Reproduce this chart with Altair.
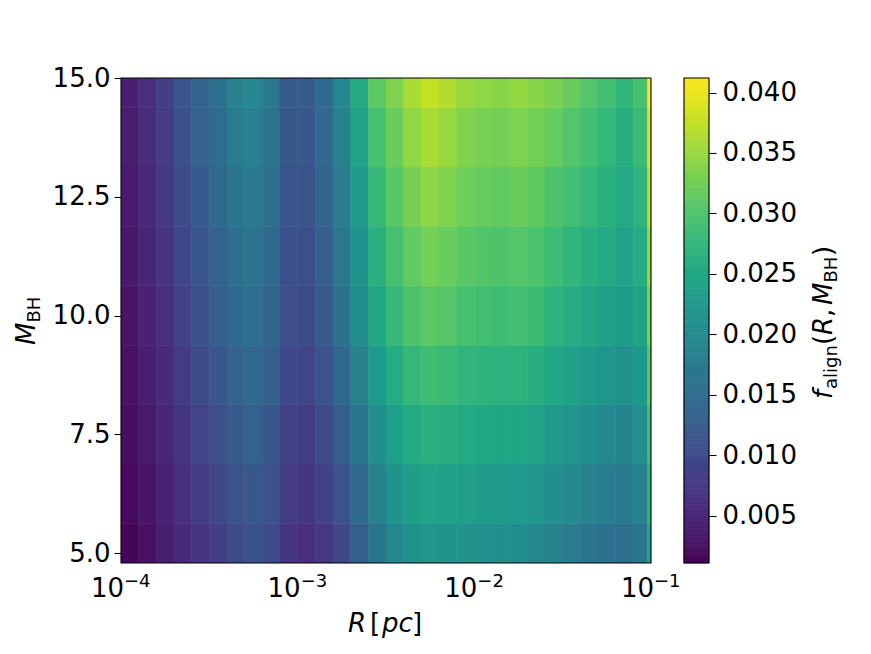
import altair as alt
import numpy as np
import pandas as pd

# ---------------- data ----------------
# column edges in log10(R / pc)
log_r_edges = [-4.0, -3.9, -3.8, -3.7, -3.6, -3.5, -3.4, -3.3, -3.2, -3.1,
               -3.0, -2.9, -2.8, -2.7, -2.6, -2.5, -2.4, -2.3, -2.2, -2.1,
               -2.0, -1.9, -1.8, -1.7, -1.6, -1.5, -1.4, -1.3, -1.2, -1.1,
               -1.02, -1.0]
# row edges in M_BH
m_edges = [4.79, 5.625, 6.875, 8.125, 9.375, 10.625, 11.875, 13.125, 14.375, 15.0]

# f_align values, one list per row (bottom -> top), one value per column (left -> right)
f_row0 = [.0016, .0028, .0042, .0058, .0072, .0085, .0100, .0110, .0102, .0072, .0064, .0075, .0098, .0130, .0165, .0195,
          .0212, .0220, .0218, .0215, .0212, .0210, .0205, .0200, .0188, .0178, .0168, .0160, .0155, .0168, .0250]
f_row1 = [.0020, .0033, .0048, .0066, .0082, .0096, .0112, .0121, .0112, .0080, .0073, .0088, .0114, .0149, .0186, .0216,
          .0234, .0243, .0240, .0235, .0232, .0229, .0226, .0221, .0209, .0199, .0189, .0180, .0174, .0187, .0270]
f_row2 = [.0024, .0038, .0054, .0073, .0091, .0108, .0124, .0133, .0121, .0089, .0082, .0100, .0129, .0168, .0208, .0238,
          .0256, .0265, .0262, .0255, .0251, .0249, .0248, .0243, .0229, .0219, .0209, .0200, .0193, .0207, .0290]
f_row3 = [.0028, .0043, .0059, .0081, .0101, .0119, .0136, .0144, .0131, .0097, .0091, .0113, .0145, .0186, .0229, .0259,
          .0278, .0288, .0283, .0275, .0271, .0268, .0269, .0264, .0250, .0240, .0230, .0220, .0211, .0226, .0310]
f_row4 = [.0032, .0048, .0065, .0088, .0110, .0130, .0148, .0155, .0140, .0105, .0100, .0125, .0160, .0205, .0250, .0280,
          .0300, .0310, .0305, .0295, .0290, .0287, .0290, .0285, .0270, .0260, .0250, .0240, .0230, .0245, .0330]
f_row5 = [.0035, .0052, .0070, .0095, .0118, .0137, .0157, .0165, .0148, .0110, .0106, .0131, .0169, .0218, .0265, .0294,
          .0315, .0327, .0320, .0309, .0304, .0300, .0305, .0299, .0286, .0275, .0264, .0253, .0241, .0258, .0350]
f_row6 = [.0039, .0057, .0075, .0102, .0125, .0144, .0167, .0175, .0155, .0115, .0113, .0138, .0178, .0230, .0280, .0308,
          .0330, .0343, .0335, .0323, .0318, .0314, .0319, .0313, .0301, .0290, .0278, .0265, .0253, .0270, .0370]
f_row7 = [.0042, .0061, .0080, .0108, .0133, .0151, .0176, .0185, .0163, .0120, .0119, .0144, .0186, .0243, .0295, .0321,
          .0345, .0360, .0350, .0336, .0331, .0327, .0334, .0326, .0317, .0305, .0291, .0278, .0264, .0283, .0390]
f_row8 = [.0045, .0065, .0085, .0115, .0140, .0158, .0185, .0195, .0170, .0125, .0125, .0150, .0195, .0255, .0310, .0335,
          .0360, .0376, .0365, .0350, .0345, .0340, .0348, .0340, .0332, .0320, .0305, .0290, .0275, .0295, .0410]
f_rows = [f_row0, f_row1, f_row2, f_row3, f_row4, f_row5, f_row6, f_row7, f_row8]

x_ticks = [1e-4, 1e-3, 1e-2, 1e-1]
x_tick_exponents = ["\u22124", "\u22123", "\u22122", "\u22121"]
y_ticks = [5.0, 7.5, 10.0, 12.5, 15.0]
cb_ticks = [0.005, 0.010, 0.015, 0.020, 0.025, 0.030, 0.035, 0.040]
F_MIN, F_MAX = 0.0011, 0.0412
M_MIN, M_MAX = 4.79, 15.0
R_MIN, R_MAX = 1e-4, 1e-1

# ---------------- tables ----------------
cells = []
for i, row in enumerate(f_rows):
    for j, v in enumerate(row):
        cells.append({"r_lo": 10 ** log_r_edges[j], "r_hi": 10 ** log_r_edges[j + 1],
                      "m_lo": m_edges[i], "m_hi": m_edges[i + 1], "f": v})
df = pd.DataFrame(cells)

cb_edges = np.linspace(F_MIN, F_MAX, 241)
cb_df = pd.DataFrame({"lo": cb_edges[:-1], "hi": cb_edges[1:],
                      "f": (cb_edges[:-1] + cb_edges[1:]) / 2})

xtick_df = pd.DataFrame({"v": x_ticks, "exp": x_tick_exponents})

W, H = 530, 485
FONT = "DejaVu Sans"
color_scale = alt.Scale(scheme="viridis", domain=[F_MIN, F_MAX])
x_scale = alt.Scale(type="log", domain=[R_MIN, R_MAX], nice=False)

axis_common = dict(grid=False, domain=False, tickColor="black", tickWidth=1.1, tickSize=7,
                   labelFont=FONT, labelFontSize=26, labelColor="black", title=None)

heat = alt.Chart(df).mark_rect(strokeWidth=0.6, clip=True).encode(
    x=alt.X("r_lo:Q", scale=x_scale,
            axis=alt.Axis(values=x_ticks, labels=False, **axis_common)),
    x2="r_hi:Q",
    y=alt.Y("m_lo:Q", scale=alt.Scale(domain=[M_MIN, M_MAX], nice=False, zero=False),
            axis=alt.Axis(values=y_ticks, format=".1f", labelPadding=4, **axis_common)),
    y2="m_hi:Q",
    color=alt.Color("f:Q", scale=color_scale, legend=None),
    stroke=alt.Stroke("f:Q", scale=color_scale, legend=None),
)

# x tick labels 10^{-n} drawn through the x scale
xlab_base = alt.Chart(xtick_df).mark_text(
    text="10", fontSize=26, font=FONT, color="black", align="right", baseline="alphabetic", dx=3
).encode(x=alt.X("v:Q", scale=x_scale, axis=None), y=alt.value(519))
xlab_exp = alt.Chart(xtick_df).mark_text(
    fontSize=18, font=FONT, color="black", align="left", baseline="alphabetic", dx=3
).encode(x=alt.X("v:Q", scale=x_scale, axis=None), y=alt.value(509), text="exp:N")

CB_X0, CB_X1 = 563, 588
cbar = alt.Chart(cb_df).mark_rect(strokeWidth=0.6).encode(
    x=alt.value(CB_X0), x2=alt.value(CB_X1),
    y=alt.Y("lo:Q", scale=alt.Scale(domain=[F_MIN, F_MAX], nice=False, zero=False),
            axis=alt.Axis(orient="right", offset=CB_X1 - W, values=cb_ticks, format=".3f",
                          labelPadding=6, **axis_common)),
    y2="hi:Q",
    color=alt.Color("f:Q", scale=color_scale, legend=None),
    stroke=alt.Stroke("f:Q", scale=color_scale, legend=None),
)

one = pd.DataFrame({"k": [0]})
frame = alt.Chart(one).mark_rect(filled=False, stroke="black", strokeWidth=1.1).encode(
    x=alt.value(0), x2=alt.value(W), y=alt.value(0), y2=alt.value(H))
cb_frame = alt.Chart(one).mark_rect(filled=False, stroke="black", strokeWidth=1.1).encode(
    x=alt.value(CB_X0), x2=alt.value(CB_X1), y=alt.value(0), y2=alt.value(H))

# title pieces: text, x, y, size, italic, angle
pieces = [
    ("R", 227, 554, 26, True, 0), ("[", 249, 554, 26, False, 0),
    ("pc", 261, 554, 26, True, 0), ("]", 291, 554, 26, False, 0),
    ("M", -86, 267, 26, True, 270), ("BH", -81, 244.5, 18, False, 270),
    ("f", 711, 321, 26, True, 270), ("align", 716, 311, 18, False, 270),
    ("(", 711, 267, 26, False, 270), ("R", 711, 257, 26, True, 270),
    (",", 711, 239, 26, False, 270), ("M", 711, 227, 26, True, 270),
    ("BH", 716, 204.5, 18, False, 270), (")", 711, 178, 26, False, 270),
]
texts = []
for t, px, py, sz, it, ang in pieces:
    kw = dict(text=t, fontSize=sz, font=FONT, color="black", align="left", baseline="alphabetic")
    if it:
        kw["fontStyle"] = "italic"
    if ang:
        kw["angle"] = ang
    texts.append(alt.Chart(one).mark_text(**kw).encode(x=alt.value(px), y=alt.value(py)))

chart = alt.layer(heat, xlab_base, xlab_exp, cbar, frame, cb_frame, *texts).resolve_scale(
    y="independent"
).properties(
    width=W, height=H,
    autosize=alt.AutoSizeParams(type="none"),
    padding={"left": 113, "top": 70, "right": 205, "bottom": 80},
    background="white",
).configure_view(stroke=None)

chart.save("out.html", embed_options={"renderer": "svg", "actions": False})
